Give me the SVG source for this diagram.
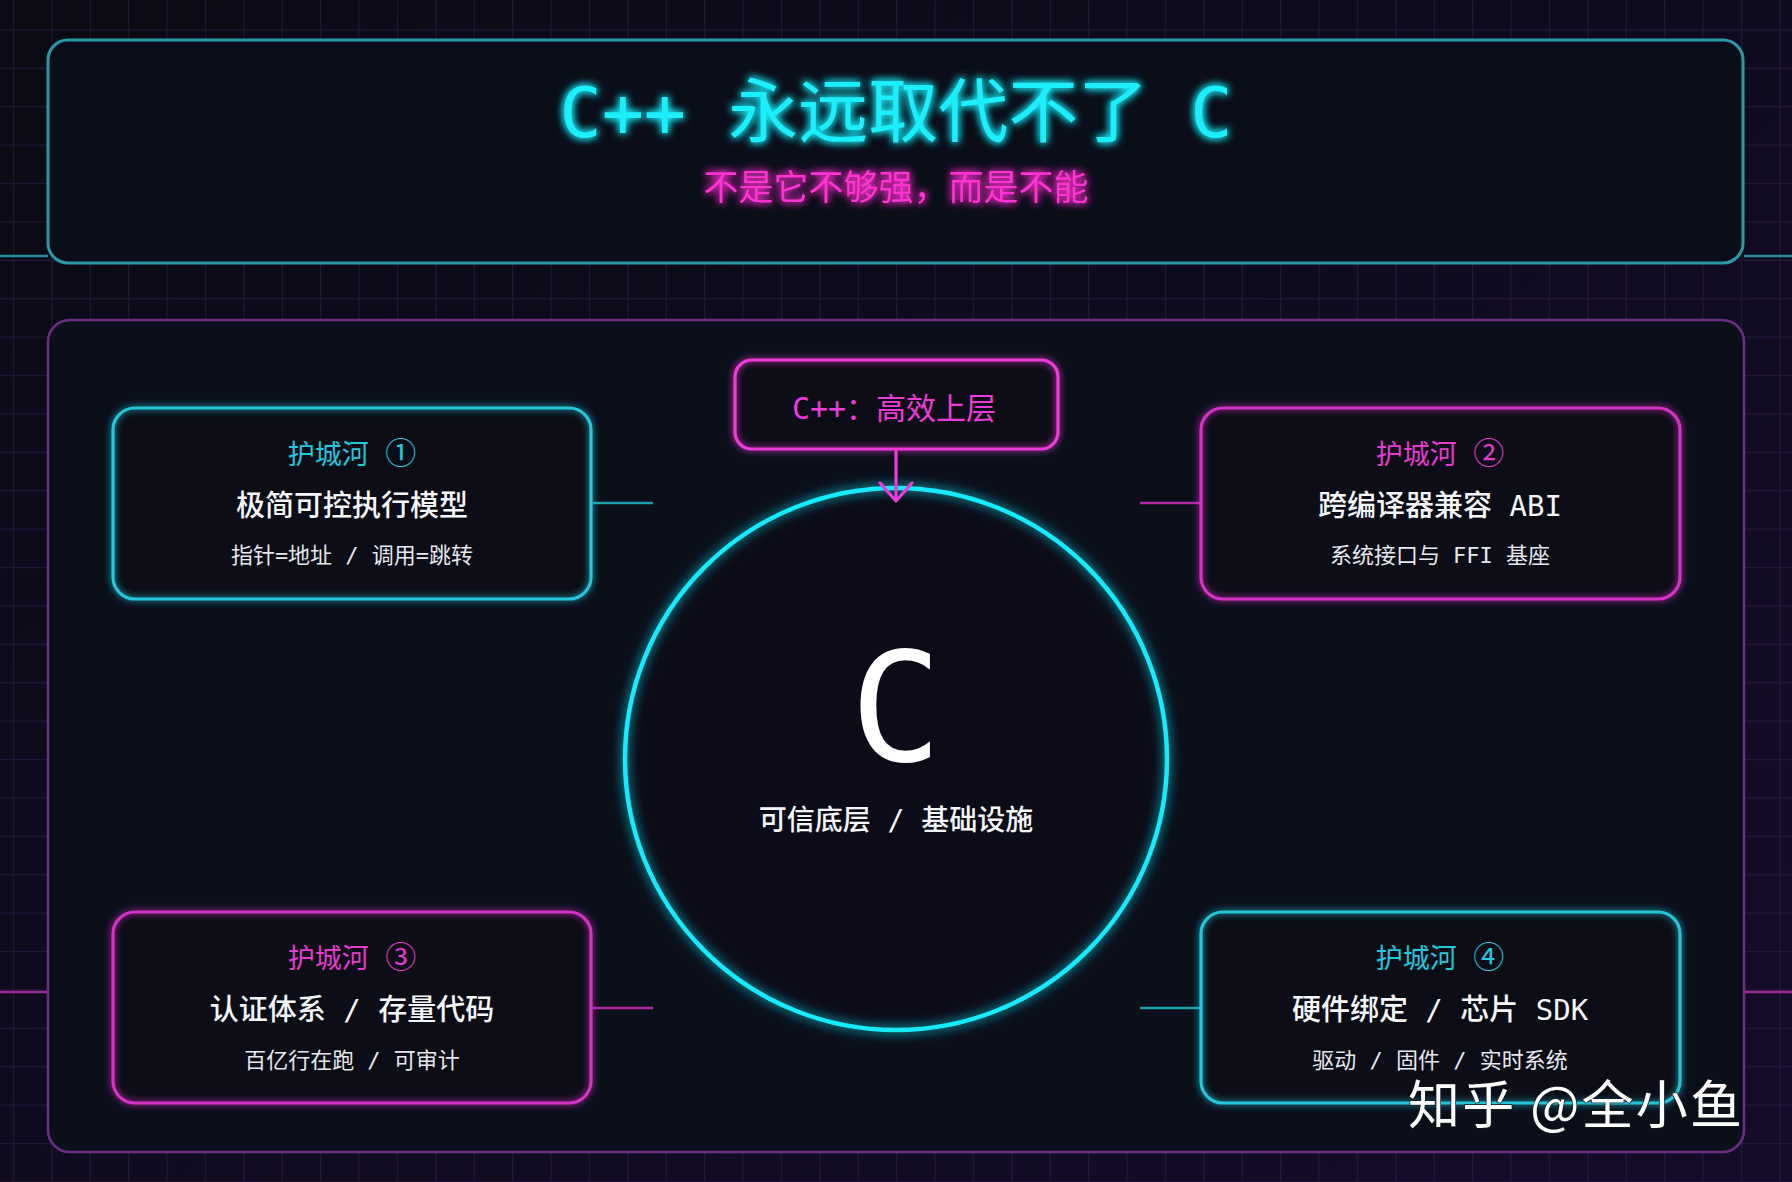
<svg xmlns="http://www.w3.org/2000/svg" width="1792" height="1182" viewBox="0 0 1792 1182">
<defs>
  <linearGradient id="bg" x1="0" y1="0" x2="1" y2="1">
    <stop offset="0" stop-color="#0a0a14"/>
    <stop offset="1" stop-color="#150c2a"/>
  </linearGradient>
  <pattern id="grid" patternUnits="userSpaceOnUse" x="12.8" y="29.3" width="38.4" height="38.4">
    <path d="M0.6 0V38.4M0 0.6H38.4" fill="none" stroke="#3a2a5c" stroke-opacity="0.45" stroke-width="1.2"/>
  </pattern>
  <filter id="glowL" x="-20%" y="-20%" width="140%" height="140%">
    <feGaussianBlur in="SourceGraphic" stdDeviation="6" result="b"/>
    <feMerge><feMergeNode in="b"/><feMergeNode in="SourceGraphic"/></feMerge>
  </filter>
  <filter id="glowS" x="-20%" y="-20%" width="140%" height="140%">
    <feGaussianBlur in="SourceGraphic" stdDeviation="3.5" result="b"/>
    <feMerge><feMergeNode in="b"/><feMergeNode in="SourceGraphic"/></feMerge>
  </filter>
  <filter id="glowT" x="-10%" y="-40%" width="120%" height="180%">
    <feGaussianBlur in="SourceGraphic" stdDeviation="4.5" result="b"/>
    <feMerge><feMergeNode in="b"/><feMergeNode in="b"/><feMergeNode in="SourceGraphic"/></feMerge>
  </filter>
  <marker id="chev" markerUnits="userSpaceOnUse" viewBox="-24 -20 28 40" markerWidth="28" markerHeight="40" refX="0" refY="0" orient="auto" overflow="visible">
    <path d="M-18,-16 L0,0 L-18,16" fill="none" stroke="#ee3ad6" stroke-width="3.2" stroke-linecap="round" stroke-linejoin="round"/>
  </marker>
</defs>
<style>
  .mono { font-family: "DejaVu Sans Mono", "Noto Sans CJK SC", monospace; }
  .fill { fill: #0c0d17; }
  .sc { fill: none; stroke: #22c6d8; stroke-width: 3.2; }
  .sm { fill: none; stroke: #d630c4; stroke-width: 3.2; }
  .lab { font-size: 27px; text-anchor: middle; }
  .num { font-family: "Noto Sans CJK SC", sans-serif; font-size: 31px; }
  .labc { fill: #22c8dc; }
  .labm { fill: #e33ccf; }
  .main { font-size: 29px; fill: #f4f6fa; text-anchor: middle; font-weight: 500; }
  .sub { font-size: 22px; fill: #e6e8ee; text-anchor: middle; }
  .conc { stroke: #1d9fae; stroke-width: 2.6; fill: none; }
  .conm { stroke: #b02aa2; stroke-width: 2.6; fill: none; }
</style>

<!-- background -->
<rect x="0" y="0" width="1792" height="1182" fill="url(#bg)"/>
<rect x="0" y="0" width="1792" height="1182" fill="url(#grid)"/>

<!-- accent lines -->
<g id="accents">
  <path d="M0 256H48M1744 256H1792" stroke="#2a8c9c" stroke-width="2.4" fill="none"/>
  <path d="M0 992H48M1744 992H1792" stroke="#9a2a98" stroke-width="2.4" fill="none"/>
</g>

<!-- title banner -->
<g id="title">
  <rect x="48" y="40" width="1695" height="223" rx="20" fill="#0a0e18" stroke="#2b98a8" stroke-width="3"/>
  <text class="mono" x="896" y="137" font-size="70" text-anchor="middle" fill="#1eeefc" filter="url(#glowT)">C++ 永远取代不了 C</text>
  <text class="mono" x="896" y="200" font-size="35" text-anchor="middle" fill="#ff30d2" filter="url(#glowT)">不是它不够强，而是不能</text>
</g>

<!-- main panel -->
<g id="panel">
  <rect x="48" y="320" width="1696" height="832" rx="22" fill="#0a0f1a" stroke="#6e2c80" stroke-width="2.6"/>
</g>

<!-- core C -->
<g id="core">
  <circle cx="896" cy="759" r="271" fill="#0b0c17"/>
  <circle cx="896" cy="759" r="271" fill="none" stroke="#12eaff" stroke-width="4.5" filter="url(#glowL)"/>
  <text class="mono" x="896" y="761" font-size="152" text-anchor="middle" fill="#ffffff">C</text>
  <text class="mono" x="896" y="830" font-size="28" text-anchor="middle" fill="#f4f6fa" font-weight="500">可信底层 / 基础设施</text>
</g>

<!-- connectors -->
<g id="connectors">
  <path class="conc" d="M593 503H653"/>
  <path class="conm" d="M1140 503H1201"/>
  <path class="conm" d="M593 1008H653"/>
  <path class="conc" d="M1140 1008H1201"/>
  <path d="M896 449V501" stroke="#ee3ad6" stroke-width="3.2" fill="none" marker-end="url(#chev)"/>
</g>

<!-- C++ upper layer -->
<g id="cpp">
  <rect class="fill" x="735" y="360" width="323" height="89" rx="17"/>
  <rect x="735" y="360" width="323" height="89" rx="17" fill="none" stroke="#f03ad8" stroke-width="3.2" filter="url(#glowS)"/>
  <text class="mono" x="894" y="419" font-size="30" text-anchor="middle" fill="#f03ad8">C++：高效上层</text>
</g>

<!-- moat 1 -->
<g id="moat1">
  <rect class="fill" x="113" y="408" width="478" height="191" rx="22"/>
  <rect class="sc" x="113" y="408" width="478" height="191" rx="22" filter="url(#glowS)"/>
  <text class="mono lab labc" x="352" y="464">护城河 <tspan class="num">①</tspan></text>
  <text class="mono main" x="352" y="516">极简可控执行模型</text>
  <text class="mono sub" x="352" y="563">指针=地址 / 调用=跳转</text>
</g>

<!-- moat 2 -->
<g id="moat2">
  <rect class="fill" x="1201" y="408" width="479" height="191" rx="22"/>
  <rect class="sm" x="1201" y="408" width="479" height="191" rx="22" filter="url(#glowS)"/>
  <text class="mono lab labm" x="1440" y="464">护城河 <tspan class="num">②</tspan></text>
  <text class="mono main" x="1440" y="516">跨编译器兼容 ABI</text>
  <text class="mono sub" x="1440" y="563">系统接口与 FFI 基座</text>
</g>

<!-- moat 3 -->
<g id="moat3">
  <rect class="fill" x="113" y="912" width="478" height="191" rx="22"/>
  <rect class="sm" x="113" y="912" width="478" height="191" rx="22" filter="url(#glowS)"/>
  <text class="mono lab labm" x="352" y="968">护城河 <tspan class="num">③</tspan></text>
  <text class="mono main" x="352" y="1020">认证体系 / 存量代码</text>
  <text class="mono sub" x="352" y="1068">百亿行在跑 / 可审计</text>
</g>

<!-- moat 4 -->
<g id="moat4">
  <rect class="fill" x="1201" y="912" width="479" height="191" rx="22"/>
  <rect class="sc" x="1201" y="912" width="479" height="191" rx="22" filter="url(#glowS)"/>
  <text class="mono lab labc" x="1440" y="968">护城河 <tspan class="num">④</tspan></text>
  <text class="mono main" x="1440" y="1020">硬件绑定 / 芯片 SDK</text>
  <text class="mono sub" x="1440" y="1068">驱动 / 固件 / 实时系统</text>
</g>

<!-- watermark -->
<g id="watermark">
  <text x="1408" y="1124" font-family="Noto Sans CJK SC, sans-serif" font-size="52" fill="#ffffff" stroke="#1a1a22" stroke-width="1.5" paint-order="stroke" textLength="334" lengthAdjust="spacing">知乎 @全小鱼</text>
</g>
</svg>
